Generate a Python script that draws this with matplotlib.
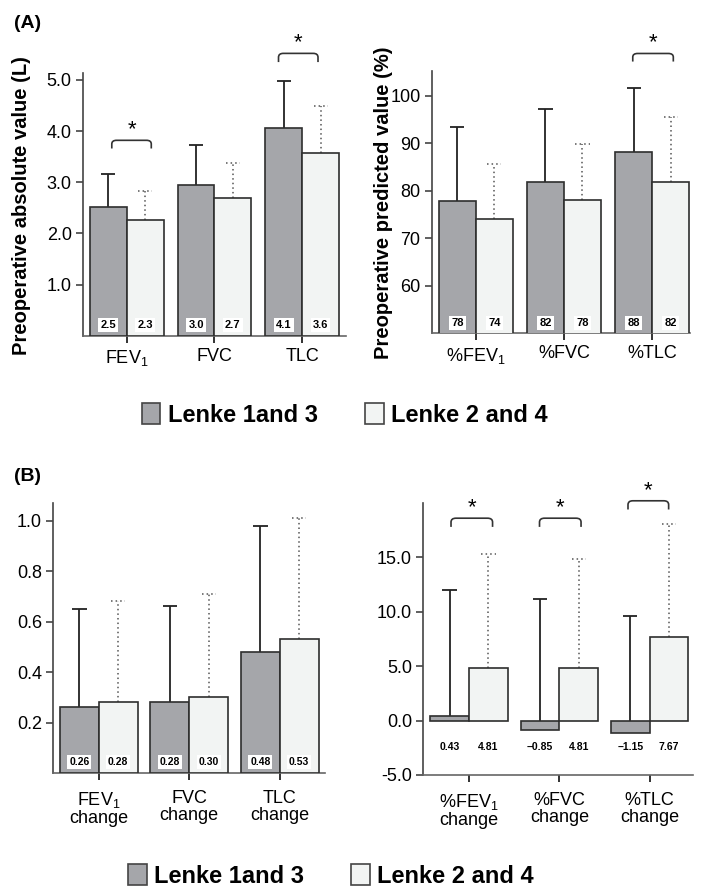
import numpy as np
import matplotlib
matplotlib.use("Agg")
import matplotlib.pyplot as plt
from matplotlib.path import Path
from matplotlib.patches import PathPatch, Patch
from matplotlib.ticker import FormatStrFormatter

plt.rcParams['font.family'] = ['Liberation Sans', 'DejaVu Sans']
plt.rcParams['mathtext.fontset'] = 'custom'
plt.rcParams['mathtext.rm'] = 'Liberation Sans'
plt.rcParams['mathtext.it'] = 'Liberation Sans:italic'
plt.rcParams['mathtext.bf'] = 'Liberation Sans:bold'

DARK = '#a5a6aa'
LIGHT = '#f2f4f3'
EDGE = '#2e2e2e'

# (A) left: preoperative absolute values (L)
abs_cats = ['FEV$_{1}$', 'FVC', 'TLC']
abs_l13 = [2.52, 2.95, 4.07]
abs_l24 = [2.27, 2.70, 3.57]
abs_l13_sd = [0.64, 0.78, 0.91]
abs_l24_sd = [0.55, 0.68, 0.93]
abs_l13_txt = ['2.5', '3.0', '4.1']
abs_l24_txt = ['2.3', '2.7', '3.6']

# (A) right: preoperative predicted values (%)
pct_cats = ['%FEV$_{1}$', '%FVC', '%TLC']
pct_l13 = [77.8, 81.9, 88.1]
pct_l24 = [74.1, 78.0, 81.9]
pct_l13_sd = [15.6, 15.2, 13.6]
pct_l24_sd = [11.6, 11.8, 13.7]
pct_l13_txt = ['78', '82', '88']
pct_l24_txt = ['74', '78', '82']

# (B) left: absolute change
chg_cats = ['FEV$_{1}$\nchange', 'FVC\nchange', 'TLC\nchange']
chg_l13 = [0.26, 0.28, 0.48]
chg_l24 = [0.28, 0.30, 0.53]
chg_l13_sd = [0.39, 0.38, 0.50]
chg_l24_sd = [0.40, 0.41, 0.48]
chg_l13_txt = ['0.26', '0.28', '0.48']
chg_l24_txt = ['0.28', '0.30', '0.53']

# (B) right: % predicted change
pchg_cats = ['%FEV$_{1}$\nchange', '%FVC\nchange', '%TLC\nchange']
pchg_l13 = [0.43, -0.85, -1.15]
pchg_l24 = [4.81, 4.81, 7.67]
pchg_l13_sd = [11.6, 12.05, 10.75]
pchg_l24_sd = [10.5, 10.04, 10.38]
pchg_l13_txt = ['0.43', '\u20130.85', '\u20131.15']
pchg_l24_txt = ['4.81', '4.81', '7.67']


def bracket(ax, x0, x1, y, drop):
    rx = (x1 - x0) * 0.12
    verts = [(x0, y - drop), (x0, y - drop * 0.45), (x0, y), (x0 + rx, y),
             (x1 - rx, y), (x1, y), (x1, y - drop * 0.45), (x1, y - drop)]
    codes = [Path.MOVETO, Path.LINETO, Path.CURVE3, Path.CURVE3,
             Path.LINETO, Path.CURVE3, Path.CURVE3, Path.LINETO]
    ax.add_patch(PathPatch(Path(verts, codes), fill=False, lw=1.2,
                           edgecolor='#333333', clip_on=False))
    ax.text((x0 + x1) / 2, y, '*', ha='center', va='bottom',
            fontsize=16, clip_on=False)


def panel(ax, cats, v1, v2, s1, s2, t1, t2, w, lab_fs, inside=True, lab_y=None):
    x = np.arange(len(cats))
    ax.bar(x - w / 2, v1, w, color=DARK, edgecolor=EDGE, lw=1.2, zorder=3)
    ax.bar(x + w / 2, v2, w, color=LIGHT, edgecolor=EDGE, lw=1.2, zorder=3)
    cap = 0.08
    for xi, v, s in zip(x - w / 2, v1, s1):
        ax.vlines(xi, v, v + s, color='#222222', lw=1.3, zorder=2)
        ax.hlines(v + s, xi - cap, xi + cap, color='#222222', lw=1.3, zorder=2)
    for xi, v, s in zip(x + w / 2, v2, s2):
        ax.vlines(xi, v, v + s, color='#555555', lw=1.1, linestyles=(0, (1, 2)), zorder=2)
        ax.hlines(v + s, xi - cap, xi + cap, color='#555555', lw=1.1,
                  linestyles=(0, (1, 2)), zorder=2)
    for xs, ts in ((x - w / 2, t1), (x + w / 2, t2)):
        for xi, t in zip(xs, ts):
            if inside:
                ax.text(xi, 0.04, t, transform=ax.get_xaxis_transform(),
                        ha='center', va='center', fontsize=lab_fs, fontweight='bold',
                        zorder=5, bbox=dict(boxstyle='square,pad=0.18', fc='white', ec='none'))
            else:
                ax.text(xi, lab_y, t, ha='center', va='center', fontsize=lab_fs,
                        fontweight='bold', zorder=5)
    ax.set_xticks(x)
    ax.set_xticklabels(cats, fontsize=13, linespacing=1.0)
    for sp in ('top', 'right'):
        ax.spines[sp].set_visible(False)
    ax.spines['left'].set_color('#444444')
    ax.spines['bottom'].set_color('#666666')
    ax.spines['left'].set_linewidth(1.2)
    ax.spines['bottom'].set_linewidth(1.2)
    ax.tick_params(axis='y', labelsize=13, length=5, width=1.2, color='#444444', pad=3)
    ax.tick_params(axis='x', length=5, width=1.3, color='#222222', pad=4)


fig = plt.figure(figsize=(7.02, 8.88), dpi=100)

ax1 = fig.add_axes([0.118, 0.622, 0.375, 0.296])
panel(ax1, abs_cats, abs_l13, abs_l24, abs_l13_sd, abs_l24_sd,
      abs_l13_txt, abs_l24_txt, 0.42, 8)
ax1.set_xlim(-0.5, 2.5)
ax1.set_ylim(0, 5.14)
ax1.set_yticks([1, 2, 3, 4, 5])
ax1.yaxis.set_major_formatter(FormatStrFormatter('%.1f'))
bracket(ax1, -0.17, 0.28, 3.82, 0.16)
bracket(ax1, 1.73, 2.18, 5.52, 0.17)

ax2 = fig.add_axes([0.615, 0.625, 0.368, 0.295])
panel(ax2, pct_cats, pct_l13, pct_l24, pct_l13_sd, pct_l24_sd,
      pct_l13_txt, pct_l24_txt, 0.42, 8)
ax2.set_xlim(-0.5, 2.43)
ax2.set_ylim(50, 105.2)
ax2.set_yticks([60, 70, 80, 90, 100])
bracket(ax2, 1.78, 2.24, 108.9, 1.7)

ax3 = fig.add_axes([0.0755, 0.1295, 0.3875, 0.304])
panel(ax3, chg_cats, chg_l13, chg_l24, chg_l13_sd, chg_l24_sd,
      chg_l13_txt, chg_l24_txt, 0.43, 7.5)
ax3.set_xlim(-0.506, 2.5)
ax3.set_ylim(0, 1.07)
ax3.set_yticks([0.2, 0.4, 0.6, 0.8, 1.0])
ax3.yaxis.set_major_formatter(FormatStrFormatter('%.1f'))
ax3.tick_params(axis='x', pad=7)

ax4 = fig.add_axes([0.6026, 0.1273, 0.3846, 0.3063])
panel(ax4, pchg_cats, pchg_l13, pchg_l24, pchg_l13_sd, pchg_l24_sd,
      pchg_l13_txt, pchg_l24_txt, 0.43, 7.5, inside=False, lab_y=-2.46)
ax4.set_xlim(-0.51, 2.48)
ax4.set_ylim(-5, 20)
ax4.set_yticks([-5, 0, 5, 10, 15])
ax4.yaxis.set_major_formatter(FormatStrFormatter('%.1f'))
ax4.tick_params(axis='x', pad=7)
bracket(ax4, -0.2, 0.26, 18.6, 0.8)
bracket(ax4, 0.78, 1.24, 18.6, 0.8)
bracket(ax4, 1.76, 2.21, 20.2, 0.8)

fig.text(0.031, 0.768, 'Preoperative absolute value (L)', rotation=90,
         ha='center', va='center', fontsize=14.5, fontweight='bold')
fig.text(0.5456, 0.772, 'Preoperative predicted value (%)', rotation=90,
         ha='center', va='center', fontsize=14.5, fontweight='bold')
fig.text(0.02, 0.974, '(A)', fontsize=14, fontweight='bold', va='center')
fig.text(0.02, 0.463, '(B)', fontsize=14, fontweight='bold', va='center')

handles = [Patch(facecolor=DARK, edgecolor='#444444', lw=1.2, label='Lenke 1and 3'),
           Patch(facecolor=LIGHT, edgecolor='#444444', lw=1.2, label='Lenke 2 and 4')]
for yc, xc in ((0.5327, 0.4907), (0.0135, 0.4715)):
    fig.legend(handles=handles, loc='center', bbox_to_anchor=(xc, yc), ncol=2,
               frameon=False, prop={'size': 17, 'weight': 'bold'},
               handlelength=0.8, handleheight=1.0, handletextpad=0.3,
               columnspacing=2.0, borderaxespad=0, borderpad=0)

fig.savefig('out.png', dpi=100)
